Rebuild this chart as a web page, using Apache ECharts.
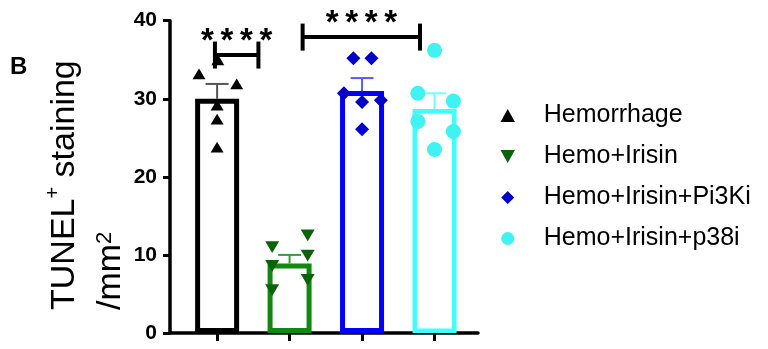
<!DOCTYPE html>
<html>
<head>
<meta charset="utf-8">
<script src="https://cdn.jsdelivr.net/npm/echarts@6/dist/echarts.min.js"></script>
<style>html,body{margin:0;padding:0;background:#fff;}#c{width:768px;height:349px;}</style>
</head>
<body>
<div id="c"></div>
<script>
// ---- data ----
const categories = ['Hemorrhage', 'Hemo+Irisin', 'Hemo+Irisin+Pi3Ki', 'Hemo+Irisin+p38i'];
const means = [30.0, 8.9, 31.0, 28.7];
const sems = [1.9, 1.1, 1.65, 2.0];
const hemorrhage = [33.2, 35.0, 31.9, 29.2, 27.4, 23.8];
const hemorrhageJitter = [-0.25, 0.01, 0.27, 0, 0, 0];
const hemoIrisin = [11.0, 12.5, 9.9, 8.6, 6.8, 5.5];
const hemoIrisinJitter = [-0.24, 0.25, 0.25, -0.24, 0.25, -0.24];
const hemoIrisinPi3Ki = [35.2, 35.2, 30.7, 29.6, 29.8, 26.1];
const hemoIrisinPi3KiJitter = [-0.12, 0.13, -0.25, 0, 0.26, 0];
const hemoIrisinP38i = [36.2, 30.7, 29.7, 27.1, 25.8, 23.5];
const hemoIrisinP38iJitter = [0, -0.23, 0.26, -0.23, 0.26, 0];
const yTicks = [0, 10, 20, 30, 40];
const xTicks = [0, 1, 2, 3];
const bracketFrom = [-0.03, 1.18];
const bracketTo = [0.57, 2.80];
const bracketY = [35.6, 37.9];
const bracketStars = [4, 4];

// ---- styles ----
const FONT = 'Liberation Sans, Arial, sans-serif';
const barColors = ['#000000', '#118811', '#0000ff', '#40ffff'];
const errColors = ['#555555', '#3a9a3a', '#5a5aff', '#70ffff'];
const pointColors = ['#000000', '#0a620a', '#0000c8', '#40f2f2'];
const symbols = ['path://M5,0L10,9L0,9Z', 'path://M0,0L10,0L5,9Z', 'path://M5,0L10,5L5,10L0,5Z', 'circle'];
const symbolSizes = [[13, 12], [14, 13], [14, 14], [15, 15]];
const groups = [hemorrhage, hemoIrisin, hemoIrisinPi3Ki, hemoIrisinP38i];
const jitters = [hemorrhageJitter, hemoIrisinJitter, hemoIrisinPi3KiJitter, hemoIrisinP38iJitter];

const chart = echarts.init(document.getElementById('c'), null, {renderer: 'canvas'});

const barData = categories.map((c, i) => ({
  value: [i, means[i]],
  itemStyle: {color: 'rgba(255,255,255,0)', borderColor: barColors[i], borderWidth: i === 3 ? 4.5 : 5}
}));

const scatterSeries = categories.map((name, g) => ({
  type: 'scatter',
  name: name,
  z: 4,
  symbol: symbols[g],
  symbolSize: symbolSizes[g],
  symbolKeepAspect: true,
  itemStyle: {color: pointColors[g], opacity: 1},
  data: groups[g].map((v, k) => [g + jitters[g][k], v])
}));

const option = {
  animation: false,
  backgroundColor: '#fff',
  grid: {left: 170, right: 290, top: 20.7, bottom: 16, containLabel: false, outerBoundsMode: 'none'},
  xAxis: {
    type: 'value', min: -0.65, max: 3.6,
    axisLine: {show: true, onZero: false, lineStyle: {color: '#000', width: 3.5}},
    axisTick: {show: true, customValues: xTicks, length: 8, lineStyle: {color: '#000', width: 3}},
    axisLabel: {show: false},
    splitLine: {show: false}
  },
  yAxis: {
    type: 'value', min: 0, max: 40, interval: 10,
    axisLine: {show: true, onZero: false, lineStyle: {color: '#000', width: 3.5}},
    axisTick: {show: true, length: 7, lineStyle: {color: '#000', width: 3}},
    axisLabel: {
      show: true, margin: 13, color: '#000', fontSize: 21, fontWeight: 'bold', fontFamily: FONT,
      customValues: yTicks
    },
    splitLine: {show: false}
  },
  legend: {
    data: categories,
    orient: 'vertical',
    left: 495.5, top: 98, padding: 5,
    itemWidth: 62, itemHeight: 13, itemGap: 16,
    symbolKeepAspect: true,
    textStyle: {fontSize: 25, fontFamily: FONT, color: '#000', lineHeight: 25},
    selectedMode: false
  },
  graphic: [
    {type: 'text', left: 10, top: 55, style: {text: 'B', font: 'bold 24px ' + FONT, fill: '#000'}},
    {
      type: 'text', x: 42, y: 310, rotation: Math.PI / 2,
      style: {
        text: '{m|TUNEL}{p|+}{m| staining}\n{m|/mm}{s|2}',
        align: 'left', verticalAlign: 'top', fill: '#000',
        rich: {
          m: {fontSize: 34, fontFamily: FONT, lineHeight: 46, verticalAlign: 'middle', fill: '#000'},
          p: {fontSize: 20, fontFamily: FONT, height: 22, verticalAlign: 'top', fill: '#000'},
          s: {fontSize: 22, fontFamily: FONT, height: 34, verticalAlign: 'top', fill: '#000'}
        }
      }
    }
  ],
  series: [
    {
      type: 'bar', z: 2, barWidth: 44, data: barData, silent: true
    },
    {
      type: 'custom', z: 3, silent: true,
      data: means.map((m, i) => [i, m, m + sems[i]]),
      renderItem: function (params, api) {
        const i = params.dataIndex;
        const p0 = api.coord([api.value(0), api.value(1)]);
        const p1 = api.coord([api.value(0), api.value(2)]);
        const hw = 11.5;
        const st = {stroke: errColors[i], lineWidth: 2};
        return {type: 'group', children: [
          {type: 'line', shape: {x1: p0[0], y1: p0[1], x2: p1[0], y2: p1[1]}, style: st},
          {type: 'line', shape: {x1: p1[0] - hw, y1: p1[1], x2: p1[0] + hw, y2: p1[1]}, style: st}
        ]};
      }
    },
    ...scatterSeries,
    {
      type: 'custom', z: 5, silent: true, clip: false,
      data: bracketY.map((y, i) => [bracketFrom[i], bracketTo[i], y]),
      renderItem: function (params, api) {
        const i = params.dataIndex;
        const a = api.coord([api.value(0), api.value(2)]);
        const b = api.coord([api.value(1), api.value(2)]);
        const t = 13.5;
        const st = {stroke: '#000', lineWidth: 4};
        const children = [
          {type: 'line', shape: {x1: a[0], y1: a[1], x2: b[0], y2: b[1]}, style: st},
          {type: 'line', shape: {x1: a[0], y1: a[1] - t, x2: a[0], y2: a[1] + t}, style: st},
          {type: 'line', shape: {x1: b[0], y1: b[1] - t, x2: b[0], y2: b[1] + t}, style: st}
        ];
        const n = bracketStars[i];
        const cx = (a[0] + b[0]) / 2;
        const pitch = 19.5;
        for (let k = 0; k < n; k++) {
          children.push({type: 'text', style: {text: '*', x: cx + (k - (n - 1) / 2) * pitch, y: a[1] - 13,
            align: 'center', verticalAlign: 'middle', font: 'bold 33px ' + FONT, fill: '#000'}});
        }
        return {type: 'group', children: children};
      }
    }
  ]
};
chart.setOption(option);
</script>
</body>
</html>
